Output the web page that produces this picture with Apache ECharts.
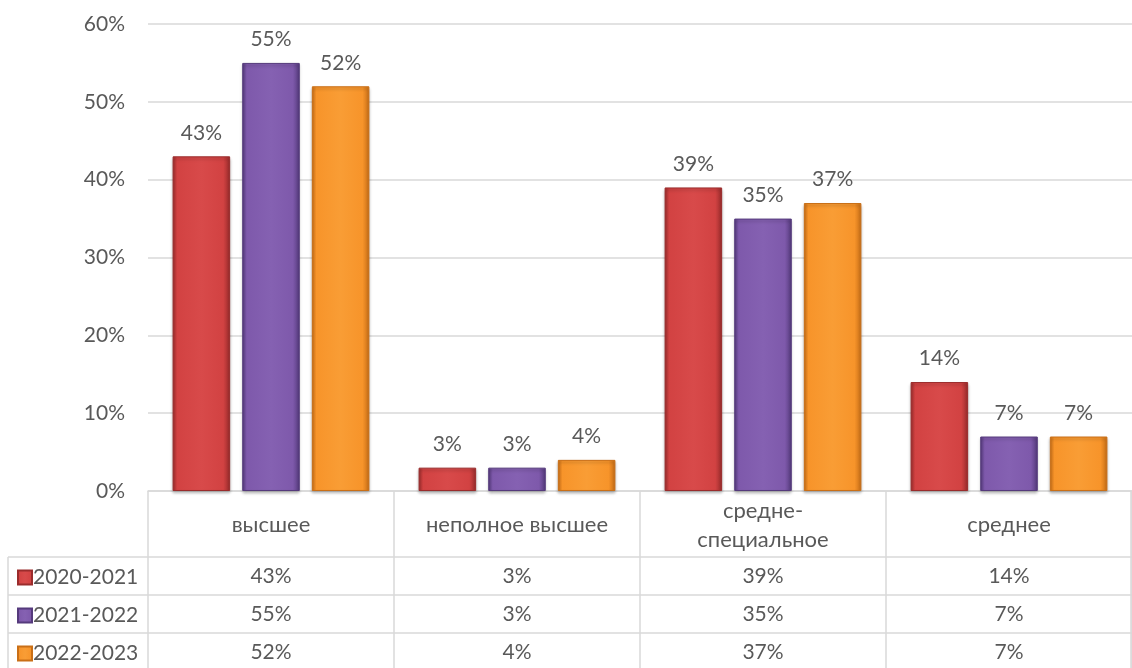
<!DOCTYPE html>
<html><head><meta charset="utf-8">
<script src="https://cdn.jsdelivr.net/npm/echarts@6/dist/echarts.min.js"></script>
<style>html,body{margin:0;padding:0;background:#fff}#c{width:1132px;height:668px}</style>
</head><body><div id="c"></div>
<script>
const categories = ['высшее', 'неполное высшее', 'средне-\nспециальное', 'среднее'];
const seriesNames = ['2020-2021', '2021-2022', '2022-2023'];
const y2021 = [43, 3, 39, 14];
const y2022 = [55, 3, 35, 7];
const y2023 = [52, 4, 37, 7];
const yTicks = [0, 10, 20, 30, 40, 50, 60];

const seriesData = [y2021, y2022, y2023];
const palette = [
  {edge: '#9a2c2c', mid: '#d24242', light: '#d84a4a'},
  {edge: '#553a7c', mid: '#7e59ab', light: '#8561b2'},
  {edge: '#c96f17', mid: '#f7942a', light: '#f99d35'}
];
const FONT = 'Lato, "Open Sans", sans-serif';
const FS = 21;
const TXT = '#595959';
const LINE = '#d9d9d9';
const G = {left: 148, right: 0, top: 24, bottom: 177};
const W = 1132, H = 668;
const rowH = 38;
const tableTop = H - G.bottom;      // 491
const headerBottom = tableTop + 66; // 557

function grad(p) {
  return new echarts.graphic.LinearGradient(0, 0, 1, 0, [
    {offset: 0, color: p.edge},
    {offset: 0.08, color: p.mid},
    {offset: 0.5, color: p.light},
    {offset: 0.88, color: p.mid},
    {offset: 1, color: p.edge}
  ]);
}

const chart = echarts.init(document.getElementById('c'));
const option = {
  animation: false,
  textStyle: {fontFamily: FONT},
  grid: G,
  legend: seriesNames.map((n, i) => ({
    orient: 'horizontal', left: 12, top: headerBottom + i * rowH + 5,
    itemWidth: 14, itemHeight: 14, itemGap: 0,
    icon: 'rect',
    textStyle: {fontSize: FS, color: TXT, fontFamily: FONT, padding: [0, 0, 0, -4]},
    data: [n]
  })),
  xAxis: {
    type: 'category', data: categories,
    axisLine: {show: true, lineStyle: {color: LINE, width: 1.5}},
    axisTick: {show: true, interval: 0, length: H - tableTop, lineStyle: {color: LINE, width: 1.5}},
    axisLabel: {interval: 0, margin: 34, verticalAlign: 'middle', fontSize: 22, color: TXT, lineHeight: 29, fontFamily: FONT}
  },
  yAxis: {
    type: 'value', min: 0, max: 60, interval: 10,
    axisLine: {show: false}, axisTick: {show: false},
    splitLine: {lineStyle: {color: LINE, width: 1.5}},
    axisLabel: {fontSize: FS, color: TXT, margin: 23, fontFamily: FONT, formatter: v => yTicks.includes(v) ? v + '%' : ''}
  },
  series: seriesNames.map((n, i) => ({
    name: n, type: 'bar', data: seriesData[i],
    barGap: '21%', barCategoryGap: '20%',
    itemStyle: {color: grad(palette[i]), borderColor: palette[i].edge, borderWidth: 1,
      shadowColor: 'rgba(0,0,0,0.25)', shadowBlur: 3, shadowOffsetY: 2},
    label: {show: true, position: 'top', distance: 13, fontSize: FS, color: TXT, fontFamily: FONT, formatter: p => p.value + '%'}
  }))
};
chart.setOption(option);

// data table drawn from the same arrays
const graphics = [];
const lineStyle = {stroke: LINE, lineWidth: 1.5};
for (let r = 0; r < 3; r++) {
  const y = headerBottom + r * rowH;
  graphics.push({type: 'line', shape: {x1: 8, y1: y, x2: W, y2: y}, style: lineStyle, silent: true});
}
graphics.push({type: 'line', shape: {x1: 8, y1: headerBottom, x2: 8, y2: H}, style: lineStyle, silent: true});
graphics.push({type: 'line', shape: {x1: W - 1, y1: tableTop, x2: W - 1, y2: H}, style: lineStyle, silent: true});
categories.forEach((c, ci) => {
  const x = chart.convertToPixel({xAxisIndex: 0}, c);
  seriesData.forEach((arr, si) => {
    graphics.push({type: 'text', x: x, y: headerBottom + si * rowH + rowH / 2,
      style: {text: arr[ci] + '%', fontSize: FS, fill: TXT, fontFamily: FONT, align: 'center', verticalAlign: 'middle'}, silent: true});
  });
});
chart.setOption({graphic: graphics});
</script></body></html>
